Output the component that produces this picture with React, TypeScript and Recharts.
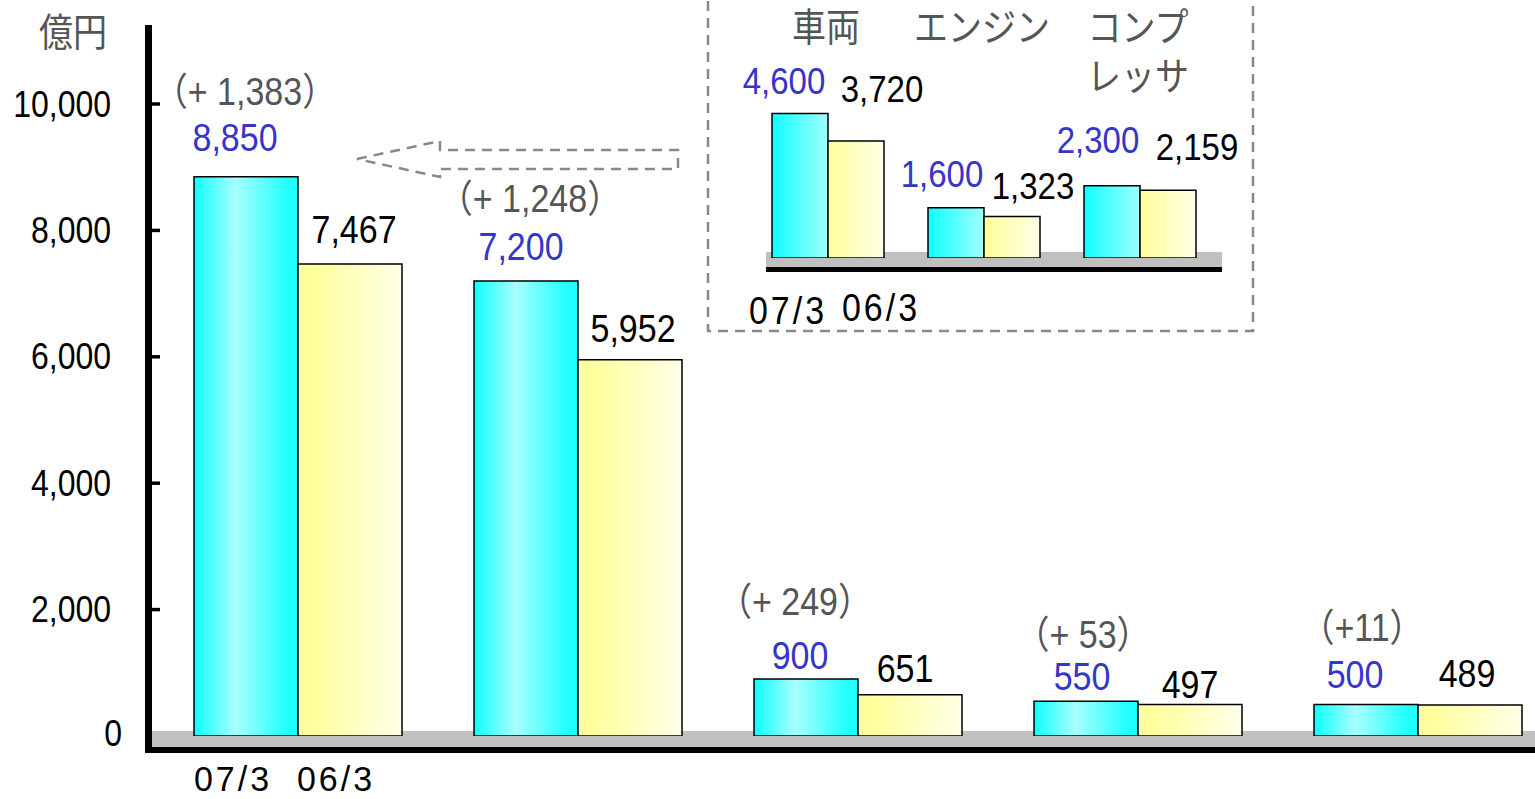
import { Bar, BarChart, LabelList, XAxis, YAxis } from 'recharts'

const groups = ['g1', 'g2', 'g3', 'g4', 'g5']
const seriesNames = ['07/3', '06/3']
const current = [8850, 7200, 900, 550, 500]
const previous = [7467, 5952, 651, 497, 489]
const diffLabels = ['（+ 1,383）', '（+ 1,248）', '（+ 249）', '（+ 53）', '（+11）']
const yTicks = [0, 2000, 4000, 6000, 8000, 10000]
const unitLabel = '億円'

const insetCats = ['車両', 'エンジン', 'コンプ\nレッサ']
const insetCurrent = [4600, 1600, 2300]
const insetPrevious = [3720, 1323, 2159]

// label nudges (px above bar top to text centre, horizontal shift)
const curLift = [40, 35, 24, 25, 30]
const curDx = [-11, -5, -6, -4, -11]
const prevLift = [35, 32, 27, 20, 32]
const prevDx = [4, 3, -5, 0, -3]
const diffLift = [86, 83, 78, 67, 77]
const diffDx = [-1, 4, -11, -3, -4]
const insetCurLift = [33, 34, 46]
const insetCurDx = [-16, -14, -14]
const insetPrevLift = [53, 31, 44]
const insetPrevDx = [26, 21, 29]

const FONT = "'Liberation Sans', Arial, 'Noto Sans CJK JP', sans-serif"
const BLUE = '#3535c8'
const GRAY = '#555555'
const DASH = '#888888'
const SY = 1.13

const mainData = groups.map((g, i) => ({ name: g, cur: current[i], prev: previous[i], diff: diffLabels[i] }))
const insetData = insetCats.map((c, i) => ({ name: c, cur: insetCurrent[i], prev: insetPrevious[i] }))

const fmt = (v: any) => Number(v).toLocaleString('en-US')

// text placed by its visual centre, slightly stretched vertically like the original
function T({ x, cy, size, fill, anchor = 'middle', ls, sy = SY, children }: any) {
  const base = cy + 0.36 * size * sy
  return (
    <text transform={`translate(${x},${base}) scale(1,${sy})`} textAnchor={anchor} fontSize={size} fill={fill} fontFamily={FONT} letterSpacing={ls}>
      {children}
    </text>
  )
}

function YTick(props: any) {
  const { y, payload } = props
  const v = payload.value
  return (
    <g>
      {v !== 0 && <line x1={152} x2={160} y1={y} y2={y} stroke="#000" strokeWidth={3.5} />}
      <T x={v === 0 ? 122 : 111} cy={v === 0 ? y - 3 : y - 0.5} size={32} fill="#000" anchor="end">{fmt(v)}</T>
    </g>
  )
}

function MainXTick(props: any) {
  const { x, index } = props
  if (index !== 0) return <g />
  return (
    <g>
      {seriesNames.map((s, k) => (
        <T key={s} x={x + (k === 0 ? -65 : 38)} cy={778} size={34} fill="#000" ls={3} sy={1.05}>{s}</T>
      ))}
    </g>
  )
}

function InsetTopTick(props: any) {
  const { x, payload } = props
  const lines = String(payload.value).split('\n')
  return (
    <g>
      {lines.map((l, k) => (
        <T key={k} x={x - 2} cy={27 + k * 49} size={34} fill={GRAY}>{l}</T>
      ))}
    </g>
  )
}

function InsetBottomTick(props: any) {
  const { x, index } = props
  if (index !== 0) return <g />
  return (
    <g>
      {seriesNames.map((s, k) => (
        <T key={s} x={x + (k === 0 ? -40 : 53)} cy={k === 0 ? 310 : 307} size={34} fill="#000" ls={3}>{s}</T>
      ))}
    </g>
  )
}

const valueLabel = (color: string, lifts: number[], dxs: number[], size: number) => (p: any) => {
  const { x, y, width, value, index } = p
  return (
    <T x={Number(x) + Number(width) / 2 + dxs[index]} cy={Number(y) - lifts[index]} size={size} fill={color}>
      {fmt(value)}
    </T>
  )
}

const diffLabel = (p: any) => {
  const { x, y, width, value, index } = p
  return (
    <T x={Number(x) + Number(width) / 2 + diffDx[index]} cy={Number(y) - diffLift[index]} size={34} fill={GRAY}>
      {value}
    </T>
  )
}

export default function App() {
  return (
    <div style={{ position: 'relative', width: 1535, height: 799, overflow: 'hidden', background: '#fff' }}>
      <style>{'body{margin:0;overflow:hidden}'}</style>
      <svg width={1535} height={799} style={{ position: 'absolute', left: 0, top: 0 }}>
        <T x={73} cy={32} size={34} fill={GRAY}>{unitLabel}</T>
        <rect x={152} y={731} width={1400} height={16} fill="#c0c0c0" />
        <rect x={145} y={747} width={1400} height={6} fill="#000" />
        <rect x={145} y={25} width={7} height={728} fill="#000" />
        <polygon points="357,159 440,141 440,150 678,150 678,169 440,169 440,177" fill="none" stroke={DASH} strokeWidth={2.5} strokeDasharray="10 7" />
        <rect x={708} y={-10} width={545} height={341} fill="none" stroke={DASH} strokeWidth={2.5} strokeDasharray="10 7" />
        <rect x={766} y={252} width={456} height={15} fill="#c0c0c0" />
        <rect x={766} y={267} width={456} height={5} fill="#000" />
      </svg>

      <div style={{ position: 'absolute', left: 0, top: 0 }}>
        <BarChart width={1600} height={799} data={mainData} margin={{ top: 25, right: 42, bottom: 0, left: 10 }} barCategoryGap={36} barGap={0}>
          <defs>
            <linearGradient id="mCyan" x1="0" y1="0" x2="1" y2="0">
              <stop offset="0" stopColor="#10ffff" />
              <stop offset="0.4" stopColor="#a8ffff" />
              <stop offset="0.9" stopColor="#20ffff" />
              <stop offset="1" stopColor="#20ffff" />
            </linearGradient>
            <linearGradient id="mYellow" x1="0" y1="0" x2="1" y2="0">
              <stop offset="0" stopColor="#ffffb0" />
              <stop offset="0.1" stopColor="#ffff99" />
              <stop offset="1" stopColor="#ffffe8" />
            </linearGradient>
          </defs>
          <XAxis dataKey="name" height={63} axisLine={false} tickLine={false} tick={MainXTick} interval={0} />
          <YAxis width={148} domain={[0, 11250]} ticks={yTicks} axisLine={false} tickLine={false} tick={YTick} interval={0} allowDataOverflow />
          <Bar dataKey="cur" fill="url(#mCyan)" stroke="#000" strokeWidth={1.5} isAnimationActive={false}>
            <LabelList dataKey="cur" content={valueLabel(BLUE, curLift, curDx, 34)} />
            <LabelList dataKey="diff" content={diffLabel} />
          </Bar>
          <Bar dataKey="prev" fill="url(#mYellow)" stroke="#000" strokeWidth={1.5} isAnimationActive={false}>
            <LabelList dataKey="prev" content={valueLabel('#000', prevLift, prevDx, 34)} />
          </Bar>
        </BarChart>
      </div>

      <div style={{ position: 'absolute', left: 700, top: 0 }}>
        <BarChart width={560} height={340} data={insetData} margin={{ top: 0, right: 42, bottom: 0, left: 50 }} barCategoryGap={22} barGap={0}>
          <defs>
            <linearGradient id="iCyan" x1="0" y1="0" x2="1" y2="0">
              <stop offset="0" stopColor="#10ffff" />
              <stop offset="1" stopColor="#a0ffff" />
            </linearGradient>
            <linearGradient id="iYellow" x1="0" y1="0" x2="1" y2="0">
              <stop offset="0" stopColor="#ffff99" />
              <stop offset="1" stopColor="#ffffe8" />
            </linearGradient>
          </defs>
          <XAxis xAxisId="top" orientation="top" dataKey="name" height={60} axisLine={false} tickLine={false} tick={InsetTopTick} interval={0} />
          <XAxis xAxisId="bot" dataKey="name" height={82} axisLine={false} tickLine={false} tick={InsetBottomTick} interval={0} />
          <YAxis hide domain={[0, 6300]} allowDataOverflow />
          <Bar xAxisId="bot" dataKey="cur" fill="url(#iCyan)" stroke="#000" strokeWidth={1.5} isAnimationActive={false}>
            <LabelList dataKey="cur" content={valueLabel(BLUE, insetCurLift, insetCurDx, 33)} />
          </Bar>
          <Bar xAxisId="bot" dataKey="prev" fill="url(#iYellow)" stroke="#000" strokeWidth={1.5} isAnimationActive={false}>
            <LabelList dataKey="prev" content={valueLabel('#000', insetPrevLift, insetPrevDx, 33)} />
          </Bar>
        </BarChart>
      </div>
    </div>
  )
}
